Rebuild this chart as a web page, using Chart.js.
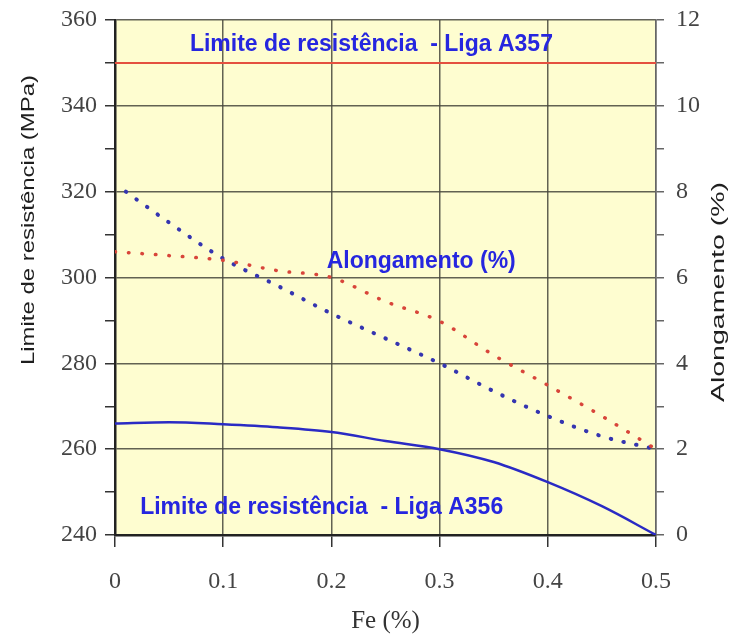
<!DOCTYPE html>
<html>
<head>
<meta charset="utf-8">
<script src="https://cdn.jsdelivr.net/npm/chart.js@4/dist/chart.umd.min.js"></script>
<style>
  html, body { margin: 0; padding: 0; background: #fff; }
  #wrap { width: 731px; height: 636px; }
</style>
</head>
<body>
<div id="wrap"><canvas id="feChart" width="731" height="636"></canvas></div>
<script>
// Fe content (%) on the x axis
const feValues = [0, 0.05, 0.1, 0.15, 0.2, 0.25, 0.3, 0.35, 0.4, 0.45, 0.5];
const feBlueDotted = [0.01, 0.05, 0.1, 0.15, 0.2, 0.25, 0.3, 0.35, 0.4, 0.45, 0.5];

// Tensile strength (MPa), left axis
const strengthA356 = [266.0, 266.3, 265.8, 265.1, 264.0, 261.9, 260.0, 257.0, 252.3, 246.7, 240.0];
const strengthA357 = [350, 350];
const a357Fe = [0, 0.5];

// Elongation (%), right axis
const elongRed = [6.6, 6.51, 6.4, 6.16, 6.0, 5.44, 4.98, 4.19, 3.49, 2.77, 2.0];
const elongBlue = [8.0, 7.28, 6.44, 5.81, 5.16, 4.58, 4.0, 3.35, 2.77, 2.3, 2.0];

const toPoints = (xs, ys) => xs.map((x, i) => ({ x: x, y: ys[i] }));

// in-plot labels (x in Fe %, y in MPa)
const notes = [
    { text: 'Limite de resistência  - Liga A357', x: 0.237, y: 354.2 },
    { text: 'Alongamento (%)', x: 0.283, y: 303.7 },
    { text: 'Limite de resistência  - Liga A356', x: 0.191, y: 246.3 }
];

const plotBackground = {
    id: 'plotBackground',
    beforeDraw(chart) {
        const { ctx, chartArea } = chart;
        ctx.save();
        ctx.fillStyle = '#fefdd0';
        ctx.fillRect(chartArea.left, chartArea.top, chartArea.width, chartArea.height);
        ctx.restore();
    }
};

const plotNotes = {
    id: 'plotNotes',
    afterDatasetsDraw(chart) {
        const { ctx, scales } = chart;
        ctx.save();
        ctx.font = 'bold 23px "Liberation Sans", Arial, sans-serif';
        ctx.fillStyle = '#2626df';
        ctx.textAlign = 'center';
        ctx.textBaseline = 'middle';
        notes.forEach(n => {
            ctx.fillText(n.text, scales.x.getPixelForValue(n.x), scales.y.getPixelForValue(n.y));
        });
        ctx.restore();
    }
};

// rotated axis titles; the source image has them stretched along the text
const sideTitles = {
    id: 'sideTitles',
    afterDraw(chart) {
        const { ctx } = chart;
        const draw = (text, x, y, stretch) => {
            ctx.save();
            ctx.translate(x, y);
            ctx.rotate(-Math.PI / 2);
            ctx.scale(stretch, 1);
            ctx.font = '19px "Liberation Sans", Arial, sans-serif';
            ctx.fillStyle = '#1e1e1e';
            ctx.textAlign = 'center';
            ctx.textBaseline = 'middle';
            ctx.fillText(text, 0, 0);
            ctx.restore();
        };
        draw('Limite de resistência (MPa)', 29, 220, 1.26);
        draw('Alongamento (%)', 719, 292, 1.5);
    }
};

const tickFont = { family: '"Liberation Serif", "Times New Roman", serif', size: 24 };

// fixed axis box sizes so the plot area sits where it does in the source
const fitVertical = w => s => { s.width = w; s.paddingTop = 0; s.paddingBottom = 0; };

new Chart(document.getElementById('feChart').getContext('2d'), {
    type: 'line',
    data: {
        datasets: [
            {
                label: 'A357',
                data: toPoints(a357Fe, strengthA357),
                borderColor: '#e4503f',
                borderWidth: 2,
                pointRadius: 0,
                yAxisID: 'y'
            },
            {
                label: 'A356',
                data: toPoints(feValues, strengthA356),
                borderColor: '#2a2ac4',
                borderWidth: 2.5,
                pointRadius: 0,
                cubicInterpolationMode: 'monotone',
                yAxisID: 'y'
            },
            {
                label: 'Alongamento',
                data: toPoints(feValues, elongRed),
                borderColor: '#d8453a',
                borderWidth: 3.5,
                borderDash: [0.5, 13],
                borderCapStyle: 'round',
                pointRadius: 0,
                cubicInterpolationMode: 'monotone',
                yAxisID: 'y1'
            },
            {
                label: 'Alongamento azul',
                data: toPoints(feBlueDotted, elongBlue),
                borderColor: '#3535b0',
                borderWidth: 4,
                borderDash: [0.5, 12.5],
                borderCapStyle: 'round',
                pointRadius: 0,
                cubicInterpolationMode: 'monotone',
                yAxisID: 'y1'
            }
        ]
    },
    options: {
        responsive: false,
        animation: false,
        layout: { padding: { top: 20, left: 0, right: 0, bottom: 0 } },
        plugins: {
            legend: { display: false },
            tooltip: { enabled: false }
        },
        scales: {
            x: {
                type: 'linear',
                min: 0,
                max: 0.5,
                afterFit: s => { s.height = 101; s.paddingLeft = 0; s.paddingRight = 0; },
                ticks: {
                    stepSize: 0.1,
                    padding: 20,
                    color: '#444',
                    font: tickFont,
                    callback: v => String(+v.toFixed(1))
                },
                grid: { color: 'rgba(70,70,60,0.85)', lineWidth: 1.5, tickLength: 12, tickColor: '#333' },
                border: { color: '#222', width: 2.5 },
                title: {
                    display: true,
                    text: 'Fe (%)',
                    color: '#333',
                    font: { family: tickFont.family, size: 25 },
                    padding: { top: 0, bottom: 0 }
                }
            },
            y: {
                position: 'left',
                min: 240,
                max: 360,
                afterFit: fitVertical(115),
                ticks: {
                    stepSize: 10,
                    padding: 8,
                    color: '#444',
                    font: tickFont,
                    callback: v => (v % 20 === 0 ? v : '')
                },
                grid: {
                    color: c => (c.tick && c.tick.value % 20 === 0 ? 'rgba(70,70,60,0.85)' : 'rgba(0,0,0,0)'),
                    lineWidth: 1.5,
                    tickLength: 10,
                    tickColor: '#333'
                },
                border: { color: '#222', width: 2.5 }
            },
            y1: {
                position: 'right',
                min: 0,
                max: 12,
                afterFit: fitVertical(75),
                ticks: {
                    stepSize: 1,
                    padding: 12,
                    color: '#444',
                    font: tickFont,
                    callback: v => (v % 2 === 0 ? v : '')
                },
                grid: { drawOnChartArea: false, lineWidth: 1.5, tickLength: 8, tickColor: '#666' },
                border: { color: '#666', width: 1.5 }
            }
        }
    },
    plugins: [plotBackground, plotNotes, sideTitles]
});
</script>
</body>
</html>
